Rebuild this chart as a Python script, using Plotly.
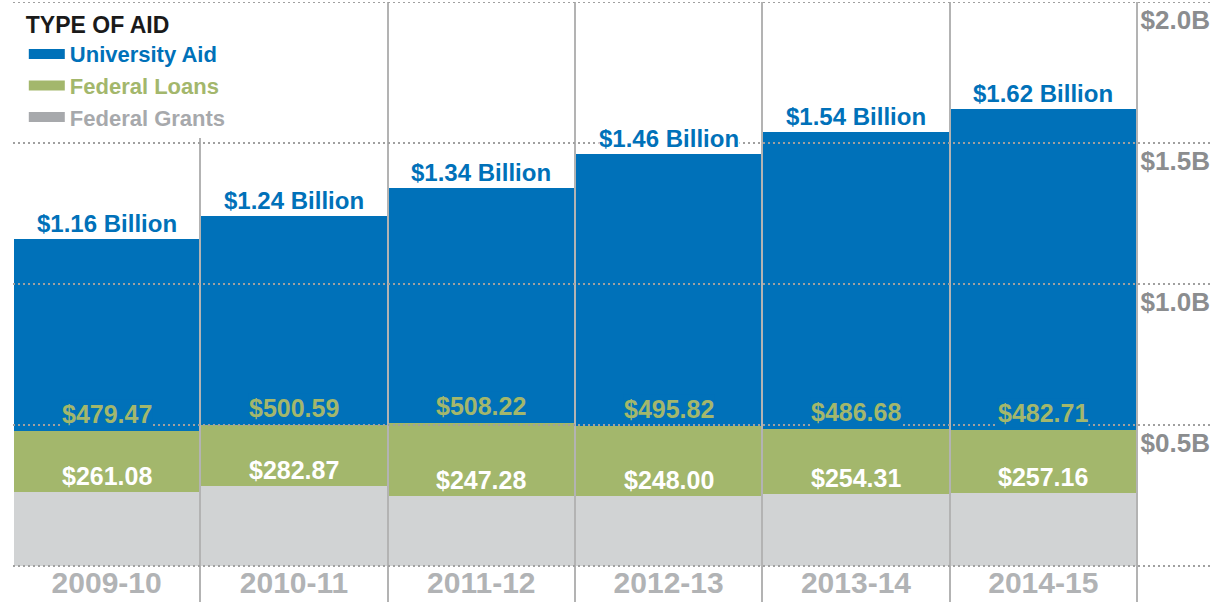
import plotly.graph_objects as go

# ---- data (millions of dollars) ----
years = ["2009-10", "2010-11", "2011-12", "2012-13", "2013-14", "2014-15"]
federal_grants = [261.08, 282.87, 247.28, 248.00, 254.31, 257.16]
grants_plus_loans = [479.47, 500.59, 508.22, 495.82, 486.68, 482.71]
total_billion = [1.16, 1.24, 1.34, 1.46, 1.54, 1.62]

federal_loans = [round(c - g, 2) for c, g in zip(grants_plus_loans, federal_grants)]
university_aid = [round(t * 1000 - c, 2) for t, c in zip(total_billion, grants_plus_loans)]
totals = [t * 1000 for t in total_billion]

ytick_vals = [500, 1000, 1500, 2000]
ytick_text = ["$0.5B", "$1.0B", "$1.5B", "$2.0B"]
grid_vals = [0, 500, 1000, 1500, 2000]

series_names = ["Federal Grants", "Federal Loans", "University Aid"]

# ---- styles ----
BLUE = "#0071b9"
GREEN = "#a3b76c"
GRAY_BAR = "#d1d3d4"
GRAY_LEG = "#a7a9ac"
FONT = "Liberation Sans, Arial, sans-serif"

series_colors = [GRAY_BAR, GREEN, BLUE]
legend_text_colors = [GRAY_LEG, GREEN, BLUE]
series_values = [federal_grants, federal_loans, university_aid]

fig = go.Figure()
for name, vals, col in zip(series_names, series_values, series_colors):
    fig.add_trace(go.Bar(x=years, y=vals, name=name, showlegend=False,
                         marker=dict(color=col, line=dict(width=0)), hoverinfo="skip"))
# legend entries (wide swatches)
for name, col, tcol in zip(series_names, [GRAY_LEG, GREEN, BLUE], legend_text_colors):
    fig.add_trace(go.Scatter(x=[None], y=[None], mode="lines", line=dict(color=col, width=17),
                             name=f"<span style='color:{tcol}'>{name}</span>", hoverinfo="skip"))

annotations = []
for yr, g, c, t in zip(years, federal_grants, grants_plus_loans, totals):
    annotations.append(dict(x=yr, y=t, yanchor="bottom", showarrow=False, yshift=1,
                            text=f"${t/1000:.2f} Billion", bgcolor="white", borderpad=0,
                            font=dict(family=FONT, size=24, color=BLUE, weight="bold")))
    annotations.append(dict(x=yr, y=c, yanchor="bottom", showarrow=False, yshift=2,
                            text=f"${c:.2f}", bgcolor=BLUE, borderpad=0,
                            font=dict(family=FONT, size=25, color=GREEN, weight="bold")))
    annotations.append(dict(x=yr, y=g, yanchor="bottom", showarrow=False, yshift=1,
                            text=f"${g:.2f}", borderpad=0,
                            font=dict(family=FONT, size=25, color="white", weight="bold")))

shapes = [dict(type="line", xref="paper", x0=0, x1=1, yref="y", y0=v, y1=v,
               line=dict(color="#a0a0a0", width=2, dash="2px,3px"), layer="above")
          for v in grid_vals]

fig.update_layout(
    width=1228, height=605, autosize=False,
    margin=dict(l=13, r=15, t=2, b=3),
    paper_bgcolor="white", plot_bgcolor="white",
    barmode="stack", bargap=0.012,
    font=dict(family=FONT),
    showlegend=True,
    legend=dict(x=0.009, y=0.998, xanchor="left", yanchor="top",
                bgcolor="white", traceorder="reversed", itemwidth=36,
                title=dict(text="TYPE OF AID", font=dict(family=FONT, size=23, color="#1a1a1a", weight="bold")),
                font=dict(family=FONT, size=22, weight="bold")),
    xaxis=dict(type="category", range=[-0.5, 5.906], tickson="boundaries",
               showgrid=True, gridcolor="#b3b3b3", gridwidth=2,
               ticks="", showline=False, zeroline=False,
               ticklabelposition="inside",
               tickfont=dict(family=FONT, size=30, color="#b1b3b5", weight="bold")),
    yaxis=dict(range=[-128, 2000], side="right", tickvals=ytick_vals, ticktext=ytick_text,
               ticklabelposition="inside", ticklabelshift=18, ticks="",
               showgrid=False, zeroline=False, showline=False,
               tickfont=dict(family=FONT, size=26, color="#8b8d8f", weight="bold")),
    shapes=shapes,
    annotations=annotations,
)

fig.write_html("out.html")
